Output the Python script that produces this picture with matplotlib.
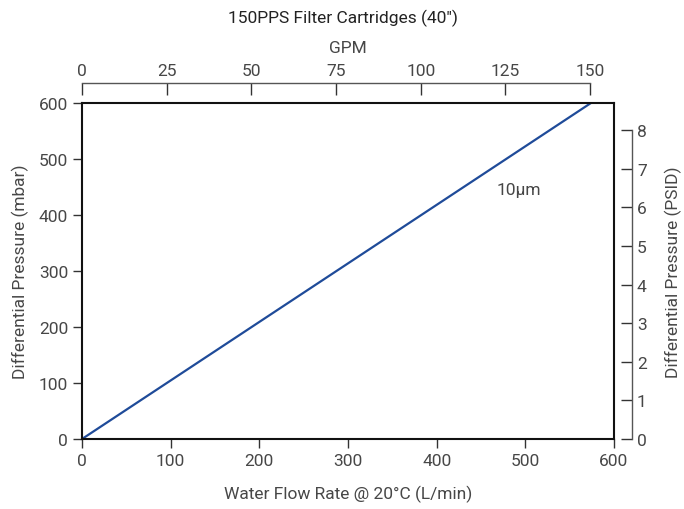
import matplotlib
matplotlib.use("Agg")
import matplotlib.pyplot as plt

plt.rcParams['font.family'] = ['Roboto', 'DejaVu Sans']

# Data
flow_lpm = [0, 574]
dp_mbar = [0, 600]
series_label = "10µm"
x_ticks = [0, 100, 200, 300, 400, 500, 600]
y_ticks = [0, 100, 200, 300, 400, 500, 600]
gpm_ticks = [0, 25, 50, 75, 100, 125, 150]
psi_ticks = [0, 1, 2, 3, 4, 5, 6, 7, 8]
LPM_PER_GPM = 3.82
MBAR_PER_PSI = 68.95

txt = '#474747'
fs = 12.5
W = 'normal'
fig = plt.figure(figsize=(6.84, 5.10), dpi=100)
ax = fig.add_axes([82/684, 1-440/510, (614-82)/684, (440-104)/510])

ax.plot(flow_lpm, dp_mbar, color='#1f4b99', lw=1.6, solid_capstyle='butt')
ax.set_xlim(0, 600)
ax.set_ylim(0, 600)
ax.set_xticks(x_ticks)
ax.set_yticks(y_ticks)
for s in ax.spines.values():
    s.set_color('#111111')
    s.set_linewidth(1.5)
ax.tick_params(axis='both', direction='out', length=6.5, width=1, color='#333333',
               labelsize=fs, labelcolor=txt, pad=3.5)
ax.set_xlabel('Water Flow Rate @ 20°C (L/min)', fontsize=fs, color=txt, fontweight=W, labelpad=12)
ax.set_ylabel('Differential Pressure (mbar)', fontsize=fs, color=txt, fontweight=W, labelpad=7)
for lab in ax.get_xticklabels() + ax.get_yticklabels():
    lab.set_fontweight(W)

ax.text(467, 446, series_label, fontsize=fs, color=txt, fontweight=W, va='center')

# Top GPM axis
axt = ax.twiny()
axt.set_xlim(0, 600 / LPM_PER_GPM)
axt.set_xticks(gpm_ticks)
for k, s in axt.spines.items():
    s.set_visible(k == 'top')
axt.spines['top'].set_position(('outward', 14.5))
axt.spines['top'].set_bounds(0, 150)
axt.spines['top'].set_color('#555555')
axt.spines['top'].set_linewidth(1)
axt.tick_params(axis='x', direction='in', length=8.5, width=1, color='#333333',
                labelsize=fs, labelcolor=txt, pad=3.5)
for lab in axt.get_xticklabels():
    lab.set_fontweight(W)
axt.set_xlabel('GPM', fontsize=fs, color=txt, fontweight=W, labelpad=8)

# Right PSID axis
axr = ax.twinx()
axr.set_ylim(0, 600 / MBAR_PER_PSI)
axr.set_yticks(psi_ticks)
for k, s in axr.spines.items():
    s.set_visible(k == 'right')
axr.spines['right'].set_position(('outward', 13))
axr.spines['right'].set_bounds(0, 8)
axr.spines['right'].set_color('#555555')
axr.spines['right'].set_linewidth(1)
axr.tick_params(axis='y', direction='in', length=8, width=1, color='#333333',
                labelsize=fs, labelcolor=txt, pad=3.5)
for lab in axr.get_yticklabels():
    lab.set_fontweight(W)
axr.set_ylabel('Differential Pressure (PSID)', fontsize=fs, color=txt, fontweight=W, labelpad=13)

fig.text(343/684, 1-18/510, '150PPS Filter Cartridges (40″)', ha='center', va='center',
         fontsize=12.5, color='#222222')

fig.savefig('out.png', dpi=100)
